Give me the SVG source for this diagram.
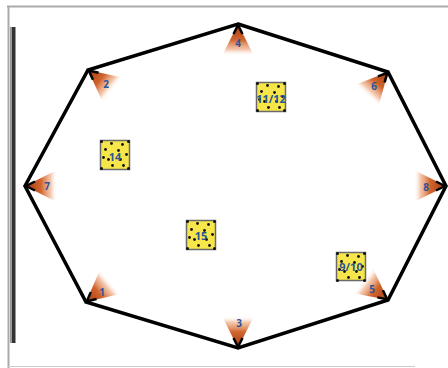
<svg xmlns="http://www.w3.org/2000/svg" width="448" height="368" viewBox="0 0 448 368">
<defs>
<linearGradient id="cg" x1="0" y1="0" x2="0" y2="1">
<stop offset="0" stop-color="#9c3a14"/>
<stop offset="0.5" stop-color="#d2652e"/>
<stop offset="0.8" stop-color="#efb08a" stop-opacity="0.7"/>
<stop offset="1" stop-color="#ffffff" stop-opacity="0"/>
</linearGradient>
<g id="cone">
<path d="M0,0 L16,32 L-16,32 Z" fill="url(#cg)"/>
<path d="M-4.5,10 L0,1 L4.5,10" fill="none" stroke="#000" stroke-width="2.5"/>
</g>
<g id="dots" fill="#111">
<circle cx="1" cy="1" r="1.5"/><circle cx="28" cy="1" r="1.5"/><circle cx="1" cy="28" r="1.5"/><circle cx="28" cy="28" r="1.5"/>
<circle cx="11" cy="3" r="1.4"/><circle cx="22" cy="4" r="1.4"/><circle cx="5" cy="9" r="1.4"/><circle cx="18" cy="10" r="1.4"/>
<circle cx="26" cy="14" r="1.4"/><circle cx="8" cy="19" r="1.4"/><circle cx="20" cy="19" r="1.4"/>
<circle cx="12" cy="25" r="1.4"/><circle cx="23" cy="25" r="1.4"/><circle cx="3" cy="17" r="1.4"/>
</g>
</defs>
<style>
.lbl{font-family:"Open Sans","Liberation Sans",sans-serif;font-size:10px;font-weight:bold;fill:#2a5598;text-anchor:middle;dominant-baseline:central}
.sl{font-size:11px}
.sq{fill:#f6e64a;stroke:#6a6a6a;stroke-width:1.5}
</style>
<rect width="448" height="368" fill="#fff"/>
<g id="frame">
<line x1="7" y1="6.5" x2="448" y2="6.5" stroke="#aaa" stroke-width="2"/>
<line x1="8.5" y1="6" x2="8.5" y2="368" stroke="#aaa" stroke-width="2"/>
<line x1="8" y1="366.5" x2="415" y2="366.5" stroke="#ccc" stroke-width="1"/>
<rect x="10" y="27" width="2" height="316" fill="#999"/>
<rect x="12" y="27" width="3.5" height="316" fill="#333"/>
</g>
<g id="connectors">
<polygon points="238,24 388,72 446,186 388,300 238,348 86,302 25,186 88,70" fill="none" stroke="#000" stroke-width="3.5" stroke-linejoin="miter"/>
</g>
<g id="v4"><use href="#cone" transform="translate(238,24) rotate(0)"/><text class="lbl" x="238" y="43">4</text></g>
<g id="v2"><use href="#cone" transform="translate(88,70) rotate(-51)"/><text class="lbl" x="106" y="84">2</text></g>
<g id="v6"><use href="#cone" transform="translate(388,72) rotate(42)"/><text class="lbl" x="374" y="86">6</text></g>
<g id="v7"><use href="#cone" transform="translate(25,186) rotate(-90)"/><text class="lbl" x="47" y="186">7</text></g>
<g id="v8"><use href="#cone" transform="translate(446,186) rotate(90)"/><text class="lbl" x="426" y="187">8</text></g>
<g id="v1"><use href="#cone" transform="translate(86,302) rotate(-130)"/><text class="lbl" x="102" y="292">1</text></g>
<g id="v5"><use href="#cone" transform="translate(388,300) rotate(128)"/><text class="lbl" x="372" y="289">5</text></g>
<g id="v3"><use href="#cone" transform="translate(238,348) rotate(180)"/><text class="lbl" x="239" y="323">3</text></g>
<g id="n1112"><rect class="sq" x="256.5" y="82.5" width="29" height="29"/><use href="#dots" transform="translate(256.5,82.5)"/><text class="lbl sl" x="271" y="98">11/12</text></g>
<g id="n14"><rect class="sq" x="100.5" y="140.5" width="29" height="29"/><use href="#dots" transform="translate(100.5,140.5)"/><text class="lbl sl" x="115" y="156">14</text></g>
<g id="n15"><rect class="sq" x="186.5" y="220.5" width="29" height="29"/><use href="#dots" transform="translate(186.5,220.5)"/><text class="lbl sl" x="201" y="235">15</text></g>
<g id="n910"><rect class="sq" x="336.5" y="252.5" width="29" height="28"/><use href="#dots" transform="translate(336.5,252.5)"/><text class="lbl sl" x="351" y="266">9/10</text></g>
</svg>
